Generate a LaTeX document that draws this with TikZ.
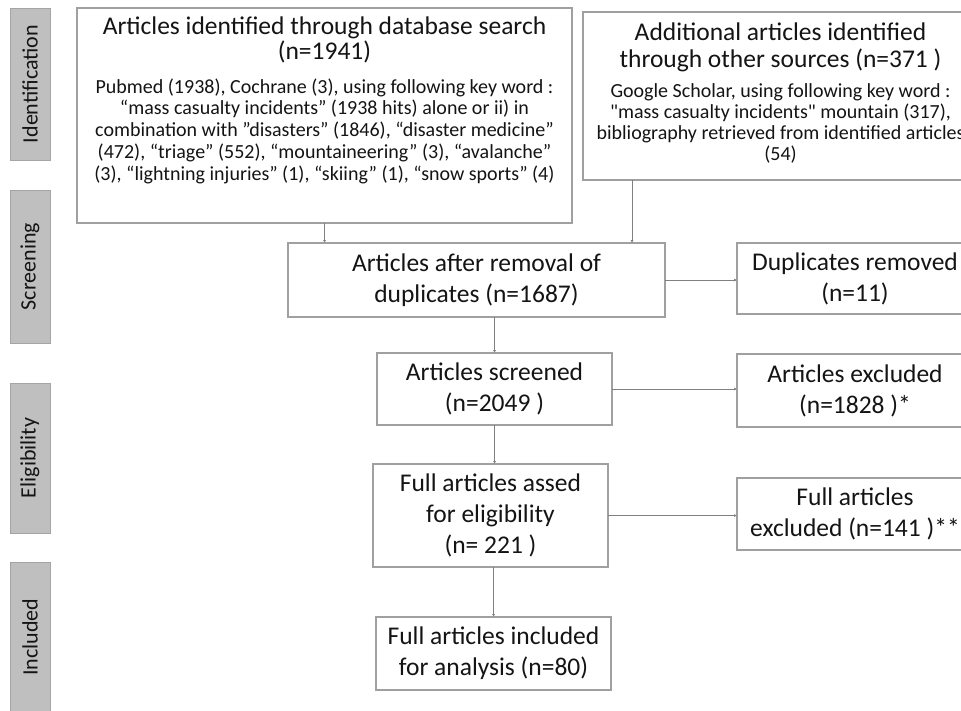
\documentclass[tikz,border=0pt]{standalone}
\usepackage{fontspec}
\setmainfont{Carlito}
\usetikzlibrary{arrows.meta}
\definecolor{boxline}{RGB}{160,160,160}
\definecolor{arrline}{RGB}{128,128,128}
\definecolor{phasefill}{RGB}{191,191,191}
\definecolor{phaseline}{RGB}{165,165,165}
\definecolor{txt}{RGB}{20,20,20}
\begin{document}
\begin{tikzpicture}[x=1pt,y=-1pt,
  box/.style={draw=boxline, line width=1.2pt, fill=white, inner sep=0pt, outer sep=0pt,
    align=center, text=txt, font=\fontsize{25.5}{31}\selectfont},
  phase/.style={draw=phaseline, fill=phasefill, line width=1pt, rotate=90,
    minimum height=40pt, inner sep=0pt, outer sep=0pt, text=txt, font=\fontsize{22}{26}\selectfont},
  arr/.style={draw=arrline, line width=0.9pt, -{Latex[length=3pt,width=3pt]}},
  big/.style={align=center, inner sep=0pt, text=txt},
  small/.style={align=center, inner sep=0pt, text=txt}]
\useasboundingbox (0,0) rectangle (961,710);
\fill[white] (0,0) rectangle (961,710);
\clip (0,0) rectangle (961,710);

% phase labels
\node[phase, minimum width=152pt] (pid) at (30,84) {Identification};
\node[phase, minimum width=153pt] (psc) at (30,266.5) {Screening};
\node[phase, minimum width=150pt] (pel) at (30,458) {Eligibility};
\node[phase, minimum width=150pt] (pin) at (30,637) {Included};

% identification boxes
\node[box, anchor=north west, minimum width=495pt, minimum height=215pt] (db) at (77,8) {};
\node[big, anchor=base, font=\fontsize{25.5}{22}\selectfont] (dbt) at (324.5,59)
  {Articles identified through database search\\(n=1941)};
\node[small, anchor=base, font=\fontsize{20}{21.7}\selectfont] (dbs) at (324.5,180)
  {Pubmed (1938), Cochrane (3), using following key word :\\
   “mass casualty incidents” (1938 hits) alone or ii) in\\
   combination with ”disasters” (1846), “disaster medicine”\\
   (472), “triage” (552), “mountaineering” (3), “avalanche”\\
   (3), “lightning injuries” (1), “skiing” (1), “snow sports” (4)};

\node[box, anchor=north west, minimum width=395pt, minimum height=168pt] (oth) at (583,12) {};
\node[big, anchor=base, font=\fontsize{25.5}{27}\selectfont] (otht) at (780.5,67)
  {Additional articles identified\\through other sources (n=371 )};
\node[small, anchor=base, font=\fontsize{20}{21}\selectfont] (oths) at (780.5,160)
  {Google Scholar, using following key word :\\
   \textquotedbl mass casualty incidents\textquotedbl{} mountain (317),\\
   bibliography retrieved from identified articles\\
   (54)};

% main column
\node[box, minimum width=377pt, minimum height=74pt] (dedup) at (476.5,280)
  {Articles after removal of\\duplicates (n=1687)};
\node[box, minimum width=235pt, minimum height=72pt] (scr) at (494.5,389)
  {Articles screened\\(n=2049 )};
\node[box, minimum width=235pt, minimum height=103pt] (full) at (490.5,515.5)
  {Full articles assed\\for eligibility\\(n= 221 )};
\node[box, minimum width=235pt, minimum height=73pt] (incl) at (493.5,653.5)
  {Full articles included\\for analysis (n=80)};

% right column
\node[box, minimum width=236pt, minimum height=71pt] (dup) at (855,278.5)
  {Duplicates removed\\(n=11)};
\node[box, minimum width=236pt, minimum height=73pt] (excl) at (855,390.5)
  {Articles excluded\\(n=1828 )*};
\node[box, minimum width=236pt, minimum height=72pt] (fexcl) at (855,514)
  {Full articles\\excluded (n=141 )**};

% connectors
\draw[arr] (db.south) -- (dedup.north -| db.south);
\draw[arr] ([xshift=49pt]oth.south west) -- ([xshift=49pt]oth.south west |- dedup.north);
\draw[arr] (dedup.south -| scr.north) -- (scr.north);
\draw[arr] (scr.south) -- (scr.south |- full.north);
\draw[arr] (full.south -| incl.north) -- (incl.north);
\draw[arr] (dedup.east) -- (dedup.east -| dup.west);
\draw[arr] (scr.east) -- (scr.east -| excl.west);
\draw[arr] (full.east) -- (full.east -| fexcl.west);
\end{tikzpicture}
\end{document}
